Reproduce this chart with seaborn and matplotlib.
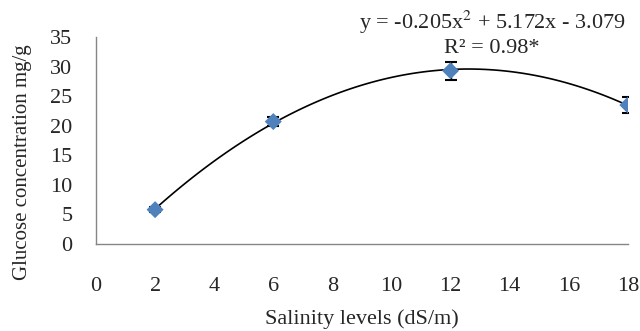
import matplotlib
matplotlib.use("Agg")
import matplotlib.pyplot as plt
import seaborn as sns
import pandas as pd

# salinity levels (dS/m) and glucose concentration (mg/g)
salinity = [2, 6, 12, 18]
glucose = [5.8, 20.7, 29.3, 23.5]
glucose_err = [0.4, 0.8, 1.5, 1.3]
equation = "y = -0.205x$^2$ + 5.172x - 3.079"
r2_label = "R² = 0.98*"

sns.set_theme(style="white")
plt.rcParams["font.family"] = ["Liberation Serif", "DejaVu Serif"]
plt.rcParams["mathtext.fontset"] = "stix"

df = pd.DataFrame({"Salinity": salinity, "Glucose": glucose})

fig, ax = plt.subplots(figsize=(6.4, 3.31), dpi=100)
fig.subplots_adjust(left=0.15, right=0.981, top=0.888, bottom=0.263)

# quadratic trendline
sns.regplot(data=df, x="Salinity", y="Glucose", order=2, ci=None,
            scatter=False, color="black", line_kws={"linewidth": 1.2}, ax=ax)

ax.errorbar(salinity, glucose, yerr=glucose_err, fmt="none", ecolor="black",
            elinewidth=1, capsize=4, capthick=1.5, zorder=3)
sns.scatterplot(data=df, x="Salinity", y="Glucose", marker="D", s=75,
                color="#4F81BD", edgecolor="none", zorder=4, ax=ax)

ax.set_xlim(0, 18)
ax.set_ylim(0, 35)
ax.set_xticks(range(0, 19, 2))
ax.set_yticks(range(0, 36, 5))
ax.tick_params(axis="both", length=0, labelsize=16)
ax.tick_params(axis="y", pad=17)
ax.tick_params(axis="x", pad=24)

for side in ["top", "right"]:
    ax.spines[side].set_visible(False)
for side in ["left", "bottom"]:
    ax.spines[side].set_color("#868686")
    ax.spines[side].set_linewidth(1)

ax.set_xlabel("Salinity levels (dS/m)", fontsize=16)
ax.set_ylabel("Glucose concentration mg/g", fontsize=15)
ax.xaxis.set_label_coords(0.5, -0.315)
ax.yaxis.set_label_coords(-0.12, 0.396)

ax.text(13.4, 37.4, equation, ha="center", va="center", fontsize=16, clip_on=False)
ax.text(13.4, 33.0, r2_label, ha="center", va="center", fontsize=16, clip_on=False)

fig.savefig("out.png", dpi=100)
